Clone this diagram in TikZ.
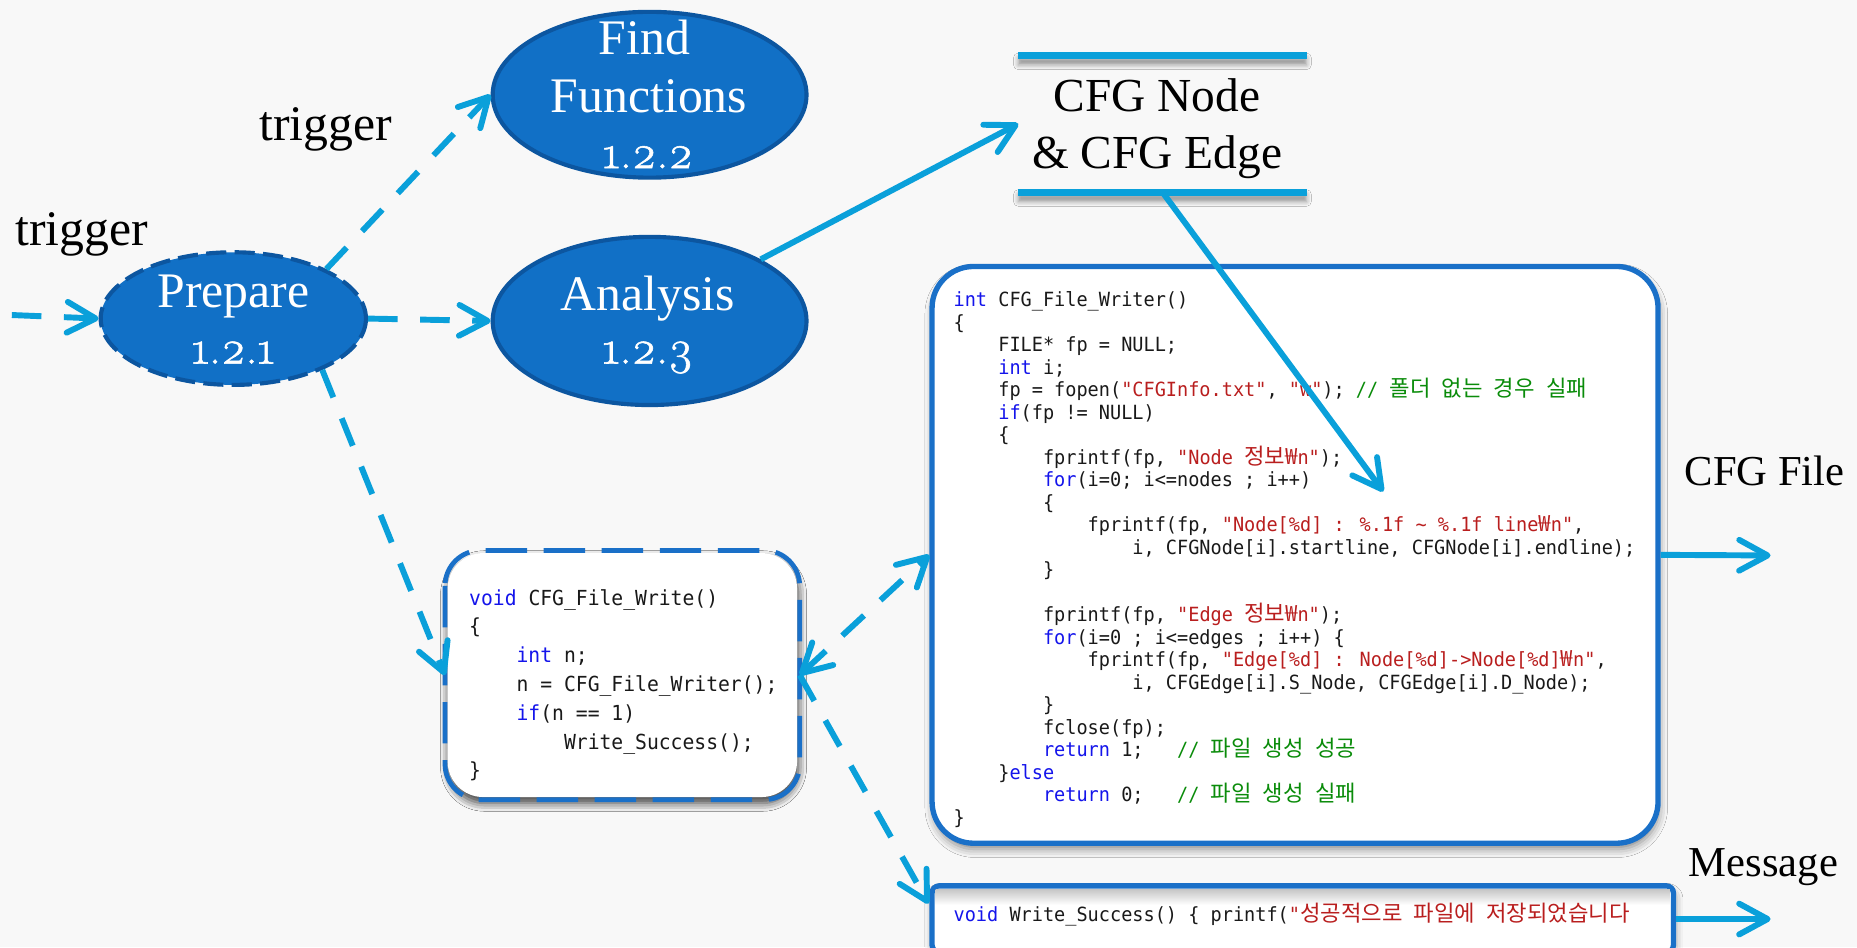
\documentclass[tikz,border=0pt]{standalone}
\usepackage{fontspec}
\usetikzlibrary{arrows.meta,shapes.geometric,shadows.blur,calc}

\setmainfont{Liberation Serif}
% old-style figures for the process numbers
\newfontfamily\numfont{Latin Modern Roman}[Numbers=OldStyle, FakeBold=1.2]
% fonts for the code listings
\newfontfamily\codefont{DejaVu Sans Mono}[FakeStretch=0.95]
\newfontfamily\krfont{Noto Sans CJK KR}[Scale=1.14]

% colours
\definecolor{paper}{RGB}{248,248,248}
\definecolor{flowblue}{RGB}{10,160,218}
\definecolor{ovalfill}{RGB}{17,112,198}
\definecolor{ovaledge}{RGB}{12,86,160}
\definecolor{boxedge}{RGB}{26,112,200}
\definecolor{kwblue}{RGB}{20,20,235}
\definecolor{strred}{RGB}{185,30,30}
\definecolor{cmgreen}{RGB}{10,140,10}
\definecolor{codeink}{RGB}{25,25,25}

% code highlighting helpers
\newcommand\kw[1]{\textcolor{kwblue}{#1}}
\newcommand\str[1]{\textcolor{strred}{#1}}
\newcommand\cm[1]{\textcolor{cmgreen}{#1}}
\newcommand\ko[1]{{\krfont #1}}
\newcommand\gap[1]{\hspace*{#1\fontcharwd\font`0}}

\tikzset{
  >={Straight Barb[length=24pt,width=26pt,round]},
  flow/.style={draw=flowblue, line width=5pt, ->},
  dashflow/.style={flow, dash pattern=on 25pt off 19pt},
  oval/.style={ellipse, fill=ovalfill, draw=ovaledge, line width=3.5pt, inner sep=0},
  lbl/.style={font=\fontsize{42}{46}\selectfont, anchor=base, inner sep=0},
  midlbl/.style={lbl, font=\fontsize{40}{44}\selectfont},
  smalllbl/.style={lbl, font=\fontsize{36}{40}\selectfont},
  wlbl/.style={lbl, text=white},
  num/.style={wlbl, font=\numfont\fontsize{40}{44}\selectfont},
  softshadow/.style={blur shadow={shadow xshift=1pt, shadow yshift=-5pt,
      shadow blur radius=7pt, shadow opacity=45}},
  codebox/.style={rectangle, draw=boxedge, fill=white, line width=4.5pt,
      inner sep=0, softshadow},
  code/.style={font=\codefont\fontsize{16.5}{19}\selectfont, text=codeink,
      inner sep=0, anchor=base west},
  smallcode/.style={code, font=\codefont\fontsize{17.5}{24}\selectfont},
  rulebar/.style={fill=flowblue, blur shadow={shadow xshift=0pt, shadow yshift=-5pt,
      shadow blur radius=4pt, shadow opacity=40}},
}

\begin{document}
\begin{tikzpicture}[x=1pt,y=-1pt]
\useasboundingbox (0,0) rectangle (1568,800);
\clip (0,0) rectangle (1568,800);
\fill[paper] (0,0) rectangle (1568,800);

% ---- CFG Node & CFG Edge heading with its two rules
\node[minimum width=243, minimum height=115, inner sep=0] (cfg) at (981.5,104.5) {};
\path[rulebar] ($(cfg.north west)+(0,-3)$) rectangle ($(cfg.north east)+(0,3)$);
\path[rulebar] ($(cfg.south west)+(0,-3)$) rectangle ($(cfg.south east)+(0,3)$);
\node[midlbl] (cfgA) at (977,94) {CFG Node};
\node[midlbl] (cfgB) at (977,142) {\& CFG Edge};

% ---- code boxes
\node[codebox, rounded corners=35pt, minimum width=613, minimum height=487] (big) at (1093.5,468.5) {};
\node[codebox, rounded corners=30pt, draw=none, softshadow,
      minimum width=295, minimum height=206] (small) at (525.5,570) {};
\draw[boxedge, line width=4pt, dash pattern=on 35pt off 14pt, rounded corners=30pt]
  (small.north west) rectangle (small.south east);
\node[codebox, rounded corners=6pt, minimum width=626, minimum height=56] (bot) at (1100,776) {};
\shade[top color=black!22, bottom color=white] (790,751) rectangle (1410,764);

% CFG_File_Writer listing
\foreach \src [count=\i] in {
  {\kw{int} CFG\_File\_Writer()},
  {\{},
  {\gap{4}FILE* fp = NULL;},
  {\gap{4}\kw{int} i;},
  {\gap{4}fp = fopen(\str{"CFGInfo.txt"}, \str{"w"}); \cm{// \ko{폴더} \ko{없는} \ko{경우} \ko{실패}}},
  {\gap{4}\kw{if}(fp != NULL)},
  {\gap{4}\{},
  {\gap{8}fprintf(fp, \str{"Node \ko{정보}\ko{₩}n"});},
  {\gap{8}\kw{for}(i=0; i<=nodes ; i++)},
  {\gap{8}\{},
  {\gap{12}fprintf(fp, \str{"Node[\%d] : \%.1f \textasciitilde{} \%.1f line\ko{₩}n"},},
  {\gap{16}i, CFGNode[i].startline, CFGNode[i].endline);},
  {\gap{8}\}},
  {},
  {\gap{8}fprintf(fp, \str{"Edge \ko{정보}\ko{₩}n"});},
  {\gap{8}\kw{for}(i=0 ; i<=edges ; i++) \{},
  {\gap{12}fprintf(fp, \str{"Edge[\%d] : Node[\%d]->Node[\%d]\ko{₩}n"},},
  {\gap{16}i, CFGEdge[i].S\_Node, CFGEdge[i].D\_Node);},
  {\gap{8}\}},
  {\gap{8}fclose(fp);},
  {\gap{8}\kw{return} 1;\gap{3}\cm{// \ko{파일} \ko{생성} \ko{성공}}},
  {\gap{4}\}\kw{else}},
  {\gap{8}\kw{return} 0;\gap{3}\cm{// \ko{파일} \ko{생성} \ko{실패}}},
  {\}}}
  \node[code] (big\i) at (805,{259+19*(\i-1)}) {\src};

% CFG_File_Write listing
\foreach \src [count=\i] in {
  {\kw{void} CFG\_File\_Write()},
  {\{},
  {\gap{4}\kw{int} n;},
  {\gap{4}n = CFG\_File\_Writer();},
  {\gap{4}\kw{if}(n == 1)},
  {\gap{8}Write\_Success();},
  {\}}}
  \node[smallcode] (small\i) at (396,{511+24.3*(\i-1)}) {\src};

% Write_Success line
\node[code] (botcode) at (805,778)
  {\kw{void} Write\_Success() \{ printf(\str{"\ko{성공적으로} \ko{파일에} \ko{저장되었습니다}}};

% ---- process ovals
\node[oval, draw=none, minimum width=224, minimum height=112] (prep) at (197,269) {};
\draw[ovaledge, line width=3.5pt, dash pattern=on 17pt off 7pt]
  (prep.center) ellipse [x radius=112, y radius=56];
\node[oval, minimum width=265, minimum height=140] (find) at (548.5,80) {};
\node[oval, minimum width=265, minimum height=142] (ana) at (548.5,271) {};

\node[wlbl] (prepA) at (197,260) {Prepare};
\node[num]  (prepB) at (197,307) {1.2.1};
\node[wlbl] (findA) at (544,46) {Find};
\node[wlbl] (findB) at (548,95) {Functions};
\node[num]  (findC) at (547,142) {1.2.2};
\node[wlbl] (anaA) at (547,262) {Analysis};
\node[num]  (anaB) at (547,307) {1.2.3};

% ---- free labels
\node[lbl] (trigA) at (69,207) {trigger};
\node[lbl] (trigB) at (275,119) {trigger};
\node[smalllbl] (fileA) at (1490,410) {CFG File};
\node[smalllbl] (msgA) at (1489,740) {Message};

% ---- connectors
\coordinate (in) at (10,266);
\coordinate (hit) at (1168,415);
\coordinate (botin) at (784,763);
\coordinate (fileout) at (1495,469);
\coordinate (msgout) at (1495,776);

\draw[dashflow] (in) -- (prep.west);
\draw[dashflow] (prep.28) -- (find.west);
\draw[dashflow] (prep.east) -- (ana.west);
\draw[dashflow] (prep.-30) -- (small.west);
\draw[flow] (ana.29) -- (cfg.west);
\draw[flow] (cfg.south) -- (hit);
\draw[dashflow, <->] (small.east) -- (big.west);
\draw[dashflow] (small.east) -- (botin);
\draw[flow] (big.east) -- (fileout);
\draw[flow] (bot.east) -- (msgout);
\end{tikzpicture}
\end{document}
